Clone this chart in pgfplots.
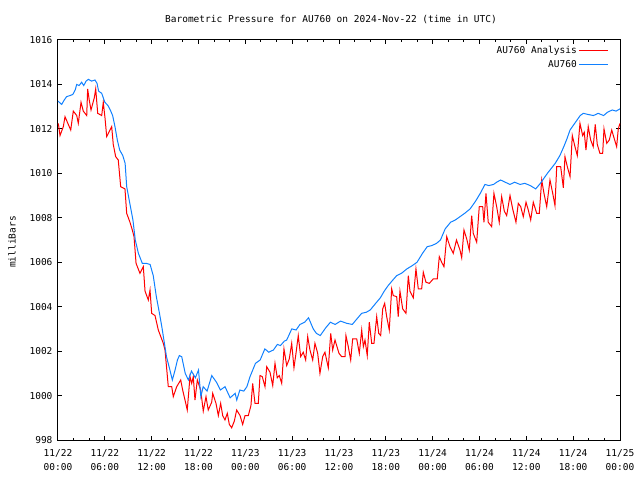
\documentclass[border=0pt]{standalone}
\usepackage{pgfplots}
\usepackage{pgfplotstable}
\pgfplotsset{compat=1.18}
\usepackage{fontspec}
\setmainfont{DejaVu Sans Mono}
\definecolor{anared}{RGB}{255,0,0}
\definecolor{obsblue}{RGB}{16,128,255}

\pgfplotstableread{
t p
0.04 1012.25
0.26 1011.7
0.68 1012.1
0.9 1012.55
1.32 1012.2
1.63 1011.95
1.96 1012.8
2.4 1012.6
2.6 1012.25
2.95 1013.2
3.24 1012.8
3.68 1012.6
3.8 1013.8
4.0 1013.3
4.23 1012.85
4.65 1013.4
4.83 1013.8
5.09 1012.7
5.6 1012.6
5.8 1013.2
6.02 1012.5
6.24 1011.65
6.66 1011.95
6.88 1012.1
7.08 1011.3
7.39 1010.75
7.72 1010.6
8.03 1009.4
8.58 1009.3
8.8 1008.2
9.22 1007.8
9.52 1007.45
9.74 1007.15
10.0 1005.95
10.5 1005.5
10.93 1005.8
11.15 1004.7
11.57 1004.3
11.79 1004.75
12.0 1003.7
12.43 1003.6
12.85 1002.95
13.49 1002.35
13.71 1002.05
14.13 1000.4
14.57 1000.4
14.77 999.95
15.21 1000.4
15.72 1000.7
15.97 1000.25
16.27 999.8
16.56 999.35
16.91 1000.85
17.13 1000.55
17.33 1000.85
17.55 999.8
17.85 1000.7
18.28 1000.25
18.49 999.65
18.61 999.3
18.96 999.95
19.25 999.35
19.69 999.7
19.82 1000.1
20.24 999.65
20.54 999.1
20.84 999.65
21.1 999.1
21.39 998.9
21.69 999.2
21.95 998.7
22.25 998.55
22.59 998.85
22.89 999.35
23.32 999.1
23.66 998.7
23.96 999.1
24.38 999.1
24.72 999.55
24.94 1000.55
25.24 999.65
25.66 999.65
25.88 1000.9
26.17 1000.85
26.52 1000.4
26.74 1001.3
27.16 1001.05
27.51 1000.45
27.8 1001.45
28.09 1000.8
28.35 1000.9
28.66 1000.55
28.95 1002.1
29.3 1001.35
29.63 1001.65
29.94 1002.35
30.23 1001.25
30.49 1001.9
30.78 1002.7
31.09 1001.75
31.42 1001.95
31.73 1001.6
31.99 1002.65
32.28 1002.05
32.63 1001.6
32.92 1002.35
33.27 1001.9
33.56 1001.0
33.91 1001.75
34.2 1001.95
34.63 1001.25
34.94 1002.8
35.19 1002.05
35.49 1002.5
35.7 1002.25
36.0 1001.9
36.34 1001.75
36.77 1001.75
36.89 1002.7
37.19 1002.2
37.5 1001.6
37.75 1002.55
38.27 1002.55
38.6 1001.9
38.91 1002.95
39.12 1002.2
39.33 1002.5
39.62 1001.8
39.88 1003.3
40.19 1002.35
40.48 1002.35
40.83 1003.55
41.09 1002.8
41.34 1002.7
41.6 1003.9
41.85 1004.15
42.11 1003.55
42.44 1002.95
42.75 1004.8
42.95 1004.5
43.39 1004.45
43.59 1003.55
43.81 1004.7
44.16 1003.9
44.58 1003.7
44.88 1005.4
45.09 1004.7
45.52 1004.4
45.86 1005.7
46.16 1004.8
46.59 1004.8
46.8 1005.55
47.14 1005.1
47.57 1005.05
48.08 1005.25
48.59 1005.25
48.85 1006.25
49.15 1006.0
49.45 1005.8
49.8 1007.15
50.22 1006.7
50.64 1006.4
51.05 1007.0
51.5 1006.55
51.72 1006.2
52.01 1007.45
52.36 1007.05
52.69 1006.55
53.0 1008.1
53.2 1007.3
53.64 1006.9
53.97 1008.5
54.41 1008.5
54.57 1007.8
54.83 1009.1
55.12 1007.8
55.56 1007.6
55.85 1009.1
56.2 1008.5
56.53 1007.8
56.84 1008.95
57.18 1008.3
57.48 1008.1
57.91 1009.0
58.25 1008.4
58.67 1007.8
58.97 1008.65
59.28 1008.5
59.61 1008.05
59.96 1008.7
60.25 1008.35
60.56 1007.9
60.89 1008.7
61.33 1008.2
61.66 1008.2
61.97 1009.7
62.26 1009.1
62.61 1008.5
63.03 1009.7
63.38 1009.1
63.67 1008.55
63.89 1010.3
64.4 1010.3
64.74 1009.35
64.95 1010.75
65.25 1010.3
65.6 1009.85
65.89 1011.7
66.23 1011.2
66.53 1010.8
66.87 1012.25
67.22 1011.7
67.42 1011.85
67.64 1011.05
67.93 1012.1
68.24 1011.5
68.57 1011.2
68.83 1012.2
69.09 1011.3
69.43 1010.9
69.78 1010.9
69.95 1012.0
70.3 1011.35
70.63 1011.5
70.94 1011.95
71.23 1011.6
71.57 1011.2
71.78 1012.0
72.0 1012.25
}\analysis

\pgfplotstableread{
t p
0.0 1013.25
0.47 1013.1
0.8 1013.3
1.1 1013.45
1.54 1013.5
1.9 1013.55
2.2 1013.75
2.4 1014.0
2.7 1013.95
3.03 1014.1
3.3 1013.95
3.6 1014.15
3.9 1014.23
4.3 1014.15
4.74 1014.2
5.0 1014.05
5.2 1013.7
5.6 1013.6
6.0 1013.2
6.4 1013.05
6.7 1012.85
7.0 1012.6
7.3 1012.1
7.6 1011.5
7.9 1011.05
8.3 1010.8
8.6 1010.45
8.8 1009.4
9.2 1008.65
9.6 1007.9
9.9 1007.0
10.3 1006.4
10.8 1005.95
11.3 1005.95
11.8 1005.9
12.2 1005.4
12.6 1004.45
13.0 1003.7
13.3 1003.1
13.9 1001.75
14.3 1001.2
14.65 1000.7
15.0 1001.15
15.3 1001.6
15.55 1001.8
15.85 1001.75
16.3 1001.0
16.7 1000.7
17.1 1001.1
17.6 1000.8
18.0 1001.15
18.3 999.95
18.6 1000.4
19.1 1000.2
19.7 1000.9
20.3 1000.6
20.8 1000.25
21.4 1000.4
22.05 999.9
22.7 1000.1
22.9 999.8
23.3 1000.25
23.8 1000.2
24.2 1000.4
24.6 1000.85
25.3 1001.45
25.9 1001.6
26.5 1002.1
27.0 1001.95
27.6 1002.05
28.1 1002.3
28.5 1002.25
29.0 1002.45
29.3 1002.5
29.95 1003.0
30.5 1002.95
31.0 1003.2
31.6 1003.3
32.1 1003.5
32.7 1003.0
33.1 1002.8
33.6 1002.7
34.3 1003.05
34.9 1003.3
35.5 1003.2
36.2 1003.35
37.0 1003.25
37.7 1003.2
38.3 1003.45
38.9 1003.7
39.5 1003.75
40.0 1003.85
40.7 1004.15
41.3 1004.4
41.8 1004.7
42.3 1004.95
42.9 1005.2
43.4 1005.4
44.0 1005.5
44.7 1005.7
45.4 1005.85
46.0 1006.0
46.7 1006.4
47.3 1006.7
47.9 1006.75
48.5 1006.85
49.0 1007.0
49.6 1007.5
50.3 1007.8
50.9 1007.9
51.5 1008.05
52.1 1008.2
52.8 1008.4
53.5 1008.75
54.1 1009.1
54.7 1009.5
55.2 1009.45
55.8 1009.5
56.2 1009.6
56.7 1009.7
57.3 1009.6
57.9 1009.5
58.5 1009.6
59.2 1009.5
59.8 1009.55
60.5 1009.45
61.2 1009.3
61.8 1009.55
62.7 1010.0
63.7 1010.45
64.3 1010.8
64.8 1011.2
65.2 1011.55
65.6 1011.95
66.1 1012.2
66.5 1012.4
66.9 1012.6
67.3 1012.7
67.9 1012.65
68.6 1012.6
69.2 1012.7
69.9 1012.6
70.4 1012.75
71.0 1012.85
71.5 1012.8
72.0 1012.9
}\observed

\begin{document}
\begin{tikzpicture}[font=\fontsize{9.5}{11}\selectfont]
\path (0pt,0pt) rectangle (640pt,480pt);
\begin{axis}[
  at={(58pt,40pt)}, anchor=south west,
  scale only axis,
  width=562pt, height=400pt,
  xmin=0, xmax=72, ymin=998, ymax=1016,
  axis line style={black, line width=1pt},
  tick style={black, line width=1pt},
  tick align=inside,
  major tick length=4pt, minor tick length=2.5pt,
  xtick={0,6,...,72},
  minor x tick num=2,
  ytick={998,1000,...,1016},
  xticklabels={{11/22\\00:00},{11/22\\06:00},{11/22\\12:00},{11/22\\18:00},{11/23\\00:00},{11/23\\06:00},{11/23\\12:00},{11/23\\18:00},{11/24\\00:00},{11/24\\06:00},{11/24\\12:00},{11/24\\18:00},{11/25\\00:00}},
  xticklabel style={align=center, font=\fontsize{9.5}{14}\selectfont, yshift=-6pt},
  yticklabel style={font=\fontsize{9.5}{11}\selectfont, xshift=-2pt},
  /pgf/number format/assume math mode=true,
  /pgf/number format/.cd, 1000 sep={}, /pgfplots/.cd,
  legend style={at={(1,1)}, anchor=north east, draw=none, fill=none,
    xshift=-10pt, yshift=-3pt, font=\fontsize{9.5}{11}\selectfont,
    row sep=1.5pt, inner sep=1pt},
  legend cell align=right,
  legend plot pos=right,
  legend image code/.code={\draw[mark repeat=2,mark phase=2,#1] plot coordinates {(0pt,0pt) (14pt,0pt) (29pt,0pt)};},
]
\addplot[anared, line width=1pt, line join=miter] table[x=t,y=p] {\analysis};
\addlegendentry{AU760 Analysis}
\addplot[obsblue, line width=1pt, line join=miter] table[x=t,y=p] {\observed};
\addlegendentry{AU760}
\end{axis}
\node at (331pt,460pt) {Barometric Pressure for AU760 on 2024-Nov-22 (time in UTC)};
\node[rotate=90] at (12pt,238pt) {milliBars};
\end{tikzpicture}
\end{document}
